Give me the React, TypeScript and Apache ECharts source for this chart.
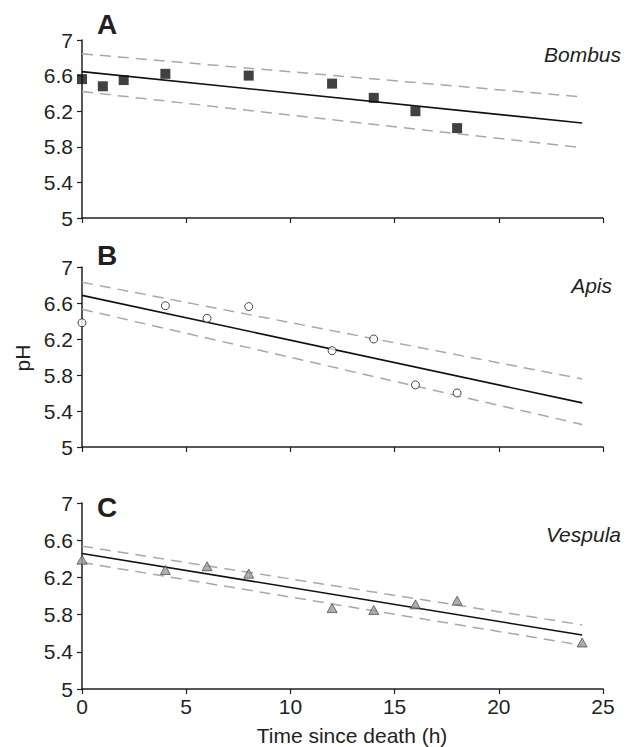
import React, { useEffect, useRef } from "react";
import * as echarts from "echarts";

// ---- data ----
const xMin = 0;
const xMax = 25;
const xInterval = 5;
const yMin = 5;
const yMax = 7;
const yInterval = 0.4;

const panelLetters = ["A", "B", "C"];
const speciesNames = ["Bombus", "Apis", "Vespula"];

const bombusHours = [0, 1, 2, 4, 8, 12, 14, 16, 18];
const bombusPH = [6.56, 6.48, 6.55, 6.62, 6.6, 6.51, 6.35, 6.2, 6.01];

const apisHours = [0, 4, 6, 8, 12, 14, 16, 18];
const apisPH = [6.38, 6.57, 6.43, 6.56, 6.07, 6.2, 5.69, 5.6];

const vespulaHours = [0, 4, 6, 8, 12, 14, 16, 18, 24];
const vespulaPH = [6.39, 6.28, 6.32, 6.24, 5.87, 5.85, 5.91, 5.95, 5.5];

const fitHours = [0, 24];
const bombusFit = [6.645, 6.067];
const bombusUpper = [6.845, 6.36];
const bombusLower = [6.42, 5.79];

const apisFit = [6.685, 5.49];
const apisUpper = [6.83, 5.756];
const apisLower = [6.53, 5.25];

const vespulaFit = [6.457, 5.58];
const vespulaUpper = [6.536, 5.69];
const vespulaLower = [6.36, 5.47];

const xAxisTitle = "Time since death (h)";
const yAxisTitle = "pH";

const FONT = '"Liberation Sans", Arial, Helvetica, sans-serif';
const TEXT = "#231f20";

const zip = (xs: number[], ys: number[]) => xs.map((x, i) => [x, ys[i]]);

export default function App() {
  const ref = useRef<HTMLDivElement>(null);

  useEffect(() => {
    if (!ref.current) return;
    const chart = echarts.init(ref.current, undefined, { renderer: "svg" });

    const grids = [
      { left: 82, top: 40, width: 521, height: 178 },
      { left: 82, top: 267, width: 521, height: 180 },
      { left: 82, top: 503, width: 521, height: 186 },
    ];

    const axisLine = { lineStyle: { color: TEXT, width: 1.5 } };
    const axisTick = { inside: false, length: 5, lineStyle: { color: TEXT, width: 1.2 } };

    const xAxes = grids.map((_, i) => ({
      type: "value",
      gridIndex: i,
      min: xMin,
      max: xMax,
      interval: xInterval,
      axisLine,
      axisTick,
      splitLine: { show: false },
      axisLabel: {
        show: i === 2,
        margin: 7,
        fontSize: 21,
        fontFamily: FONT,
        color: TEXT,
      },
    }));

    const yAxes = grids.map((_, i) => ({
      type: "value",
      gridIndex: i,
      min: yMin,
      max: yMax,
      interval: yInterval,
      axisLine: { ...axisLine, onZero: false },
      axisTick,
      splitLine: { show: false },
      axisLabel: {
        margin: 9,
        fontSize: 21,
        fontFamily: FONT,
        color: TEXT,
      },
    }));

    const pointSets = [
      {
        data: zip(bombusHours, bombusPH),
        symbol: "rect",
        symbolSize: 10,
        itemStyle: { color: "#111111", borderColor: "#111111", borderWidth: 0 },
      },
      {
        data: zip(apisHours, apisPH),
        symbol: "circle",
        symbolSize: 8,
        itemStyle: { color: "#ffffff", borderColor: "#1a1a1a", borderWidth: 1 },
      },
      {
        data: zip(vespulaHours, vespulaPH),
        symbol: "triangle",
        symbolSize: [10, 9],
        itemStyle: { color: "#9a9a9a", borderColor: "#333333", borderWidth: 0.8 },
      },
    ];
    const fits = [bombusFit, apisFit, vespulaFit];
    const uppers = [bombusUpper, apisUpper, vespulaUpper];
    const lowers = [bombusLower, apisLower, vespulaLower];

    const series: any[] = [];
    grids.forEach((_, i) => {
      [uppers[i], lowers[i]].forEach((band) => {
        series.push({
          type: "line",
          xAxisIndex: i,
          yAxisIndex: i,
          data: zip(fitHours, band),
          showSymbol: false,
          symbol: "none",
          silent: true,
          z: 2,
          lineStyle: { color: "#a8a8a8", width: 1.5, type: [11, 7] },
        });
      });
      series.push({
        type: "line",
        xAxisIndex: i,
        yAxisIndex: i,
        data: zip(fitHours, fits[i]),
        showSymbol: false,
        symbol: "none",
        silent: true,
        z: 3,
        lineStyle: { color: "#111111", width: 1.6 },
      });
      series.push({
        type: "scatter",
        xAxisIndex: i,
        yAxisIndex: i,
        clip: false,
        z: 4,
        ...pointSets[i],
      });
    });

    const letterY = [24.5, 255.5, 507.5];
    const speciesPos = [
      { x: 621, y: 54 },
      { x: 612, y: 285.5 },
      { x: 621, y: 534 },
    ];

    const graphic: any[] = [];
    panelLetters.forEach((l, i) => {
      graphic.push({
        type: "text",
        x: 97,
        y: letterY[i],
        style: {
          text: l,
          fontSize: 28,
          fontWeight: "bold",
          fontFamily: FONT,
          fill: TEXT,
          align: "left",
          verticalAlign: "middle",
        },
      });
    });
    speciesNames.forEach((s, i) => {
      graphic.push({
        type: "text",
        x: speciesPos[i].x,
        y: speciesPos[i].y,
        style: {
          text: s,
          fontSize: 21,
          fontStyle: "italic",
          fontFamily: FONT,
          fill: TEXT,
          align: "right",
          verticalAlign: "middle",
        },
      });
    });
    graphic.push({
      type: "text",
      x: 22,
      y: 358,
      rotation: Math.PI / 2,
      style: {
        text: yAxisTitle,
        fontSize: 21,
        fontFamily: FONT,
        fill: TEXT,
        align: "center",
        verticalAlign: "middle",
      },
    });
    graphic.push({
      type: "text",
      x: 352,
      y: 735,
      style: {
        text: xAxisTitle,
        fontSize: 21,
        fontFamily: FONT,
        fill: TEXT,
        align: "center",
        verticalAlign: "middle",
      },
    });

    chart.setOption({
      animation: false,
      backgroundColor: "#ffffff",
      grid: grids,
      xAxis: xAxes,
      yAxis: yAxes,
      series,
      graphic,
    });

    return () => chart.dispose();
  }, []);

  return (
    <div
      ref={ref}
      style={{ position: "absolute", left: 0, top: 0, width: 636, height: 747 }}
    />
  );
}
